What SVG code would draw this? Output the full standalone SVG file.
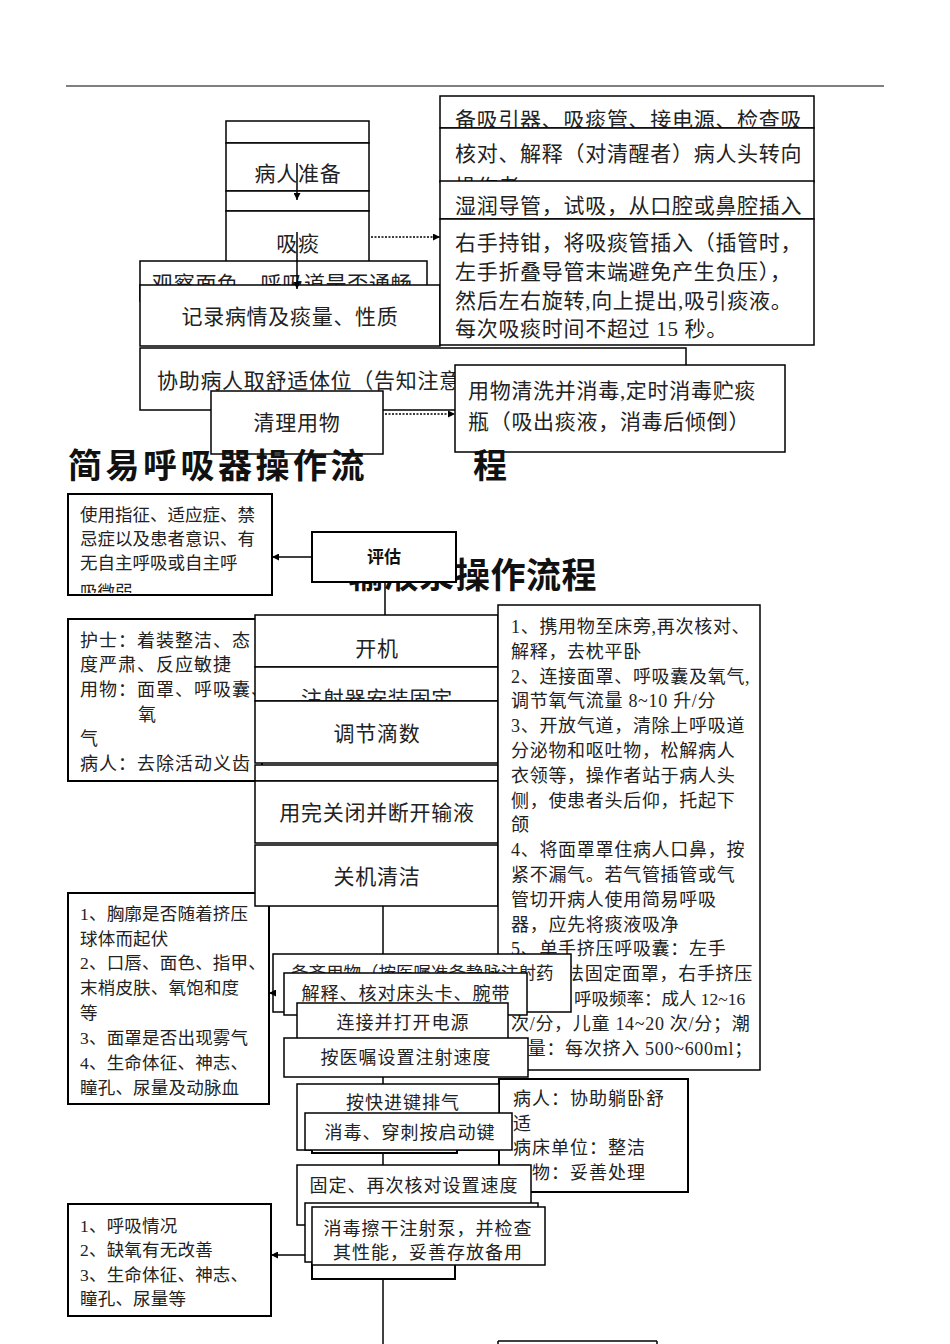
<svg xmlns="http://www.w3.org/2000/svg" width="950" height="1344" viewBox="0 0 950 1344">
<style>
.b{fill:#fff;stroke:#000;stroke-width:1.5}
.bb{fill:#fff;stroke:#000;stroke-width:2}
.t{font-family:"Liberation Serif","Noto Sans CJK SC",sans-serif;fill:#222}
.f21{font-size:21px;letter-spacing:0.7px}
.f18{font-size:18px;letter-spacing:1px}
.f18s{font-size:17.5px;letter-spacing:0.2px}
.f17{font-size:17.5px}
.fr{font-size:18px;letter-spacing:0.7px}
.c{text-anchor:middle}
.ttl{font-family:"Noto Sans CJK SC",sans-serif;font-weight:bold;fill:#111}
.ln{stroke:#000;stroke-width:1.5;fill:none}
.dot{stroke:#000;stroke-width:1.5;fill:none;stroke-dasharray:2 1.5}
</style>
<defs>
<marker id="ah" viewBox="0 0 10 10" refX="10" refY="5" markerWidth="7" markerHeight="7" markerUnits="userSpaceOnUse" orient="auto"><path d="M0,0L10,5L0,10z" fill="#000"/></marker>
<clipPath id="clipA"><rect x="68" y="494" width="204" height="99"/></clipPath>
<clipPath id="clipB"><rect x="440" y="128" width="374" height="53"/></clipPath>
<clipPath id="clipC"><rect x="300" y="583" width="160" height="20"/></clipPath>
<clipPath id="clipD"><rect x="140" y="262" width="287" height="23"/></clipPath>
<clipPath id="clipE"><rect x="255" y="668" width="243" height="33"/></clipPath>
</defs>
<line x1="66" y1="86" x2="884" y2="86" stroke="#000" stroke-width="1"/>

<g id="top-column">
<rect class="b" x="226" y="121" width="143" height="22"/>
<g id="n-patient-prep"><rect class="b" x="226" y="143" width="143" height="48"/><text class="t f21 c" x="298" y="181">病人准备</text></g>
<rect class="b" x="226" y="191" width="143" height="20"/>
<g id="n-suction"><rect class="b" x="226" y="211" width="143" height="51"/><text class="t f21 c" x="298" y="251">吸痰</text></g>
</g>
<g id="n-observe"><rect class="b" x="140" y="261" width="287" height="40"/><text class="t f21" x="152" y="291" clip-path="url(#clipD)">观察面色、呼吸道是否通畅</text></g>
<g id="n-record"><rect class="b" x="140" y="285" width="300" height="61"/><text class="t f21 c" x="290" y="324">记录病情及痰量、性质</text></g>

<g id="n-r1"><rect class="b" x="440" y="96" width="374" height="32"/><text class="t f21" x="455" y="127">备吸引器、吸痰管、接电源、检查吸</text></g>
<g id="n-r2"><rect class="b" x="440" y="128" width="374" height="54"/><text class="t f21" x="455" y="161">核对、解释（对清醒者）病人头转向</text><text class="t f21" x="455" y="194" clip-path="url(#clipB)">操作者</text></g>
<g id="n-r3"><rect class="b" x="440" y="181" width="374" height="38"/><text class="t f21" x="455" y="213">湿润导管，试吸，从口腔或鼻腔插入</text></g>
<g id="n-r4"><rect class="b" x="440" y="219" width="374" height="126"/>
<text class="t f21" x="455" y="250">右手持钳，将吸痰管插入（插管时，</text>
<text class="t f21" x="455" y="279">左手折叠导管末端避免产生负压），</text>
<text class="t f21" x="455" y="308">然后左右旋转,向上提出,吸引痰液。</text>
<text class="t f21" x="455" y="336">每次吸痰时间不超过 15 秒。</text></g>

<g id="n-assist"><rect class="b" x="140" y="348" width="546" height="62"/><text class="t f21" x="157" y="388">协助病人取舒适体位（告知注意</text></g>
<g id="n-disinfect"><rect class="b" x="455" y="365" width="330" height="87"/><text class="t f21" x="468" y="398">用物清洗并消毒,定时消毒贮痰</text><text class="t f21" x="468" y="429">瓶（吸出痰液，消毒后倾倒）</text></g>
<g id="n-clean"><rect class="b" x="211" y="391" width="172" height="63"/><text class="t f21 c" x="297" y="430">清理用物</text></g>

<text class="ttl" x="68" y="478" font-size="34" letter-spacing="3.5">简易呼吸器操作流</text>
<text class="ttl" x="473" y="478" font-size="34">程</text>
<text class="ttl" x="348" y="588" font-size="35" letter-spacing="0.5" clip-path="url(#clipC)">输液泵</text>
<text class="ttl" x="455" y="588" font-size="35" letter-spacing="0.5">操作流程</text>

<g id="n-assess"><rect class="bb" x="312" y="532" width="144" height="50"/><text class="ttl c" x="384" y="563" font-size="17">评估</text></g>
<g id="n-indic"><rect class="bb" x="68" y="494" width="204" height="101"/>
<g clip-path="url(#clipA)">
<text class="t f17" x="80" y="521">使用指征、适应症、禁</text>
<text class="t f17" x="80" y="545">忌症以及患者意识、有</text>
<text class="t f17" x="80" y="569">无自主呼吸或自主呼</text>
<text class="t f17" x="80" y="598">吸微弱</text></g></g>

<g id="n-nurse"><rect class="bb" x="68" y="619" width="194" height="162"/>
<text class="t f18" x="80" y="647">护士：着装整洁、态</text>
<text class="t f18" x="80" y="671">度严肃、反应敏捷</text>
<text class="t f18" x="80" y="696">用物：面罩、呼吸囊、</text>
<text class="t f18" x="138" y="721">氧</text>
<text class="t f18" x="80" y="745">气</text>
<text class="t f18" x="80" y="770">病人：去除活动义齿</text></g>

<g id="n-check1"><rect class="bb" x="68" y="893" width="201" height="211"/>
<text class="t f18s" x="80" y="920">1、胸廓是否随着挤压</text>
<text class="t f18s" x="80" y="945">球体而起伏</text>
<text class="t f18s" x="80" y="969">2、口唇、面色、指甲、</text>
<text class="t f18s" x="80" y="994">末梢皮肤、氧饱和度</text>
<text class="t f18s" x="80" y="1019">等</text>
<text class="t f18s" x="80" y="1044">3、面罩是否出现雾气</text>
<text class="t f18s" x="80" y="1069">4、生命体征、神志、</text>
<text class="t f18s" x="80" y="1094">瞳孔、尿量及动脉血</text></g>

<g id="mid-column">
<g id="n-start"><rect class="b" x="255" y="615" width="243" height="52"/><text class="t f21 c" x="377" y="656">开机</text></g>
<g id="n-syringe"><rect class="b" x="255" y="667" width="243" height="34"/><text class="t f21 c" x="377" y="706" clip-path="url(#clipE)">注射器安装固定</text></g>
<g id="n-drip"><rect class="b" x="255" y="701" width="243" height="62"/><text class="t f21 c" x="377" y="741">调节滴数</text></g>
<rect class="b" x="255" y="765" width="243" height="16"/>
<g id="n-close"><rect class="b" x="255" y="781" width="243" height="62"/><text class="t f21 c" x="377" y="820">用完关闭并断开输液</text></g>
<g id="n-off"><rect class="b" x="255" y="845" width="243" height="61"/><text class="t f21 c" x="377" y="884">关机清洁</text></g>
</g>

<g id="n-steps"><rect class="b" x="498" y="605" width="262" height="465"/>
<text class="t fr" x="511" y="633">1、携用物至床旁,再次核对、</text>
<text class="t fr" x="511" y="658">解释，去枕平卧</text>
<text class="t fr" x="511" y="683">2、连接面罩、呼吸囊及氧气,</text>
<text class="t fr" x="511" y="707">调节氧气流量 8~10 升/分</text>
<text class="t fr" x="511" y="732">3、开放气道，清除上呼吸道</text>
<text class="t fr" x="511" y="757">分泌物和呕吐物，松解病人</text>
<text class="t fr" x="511" y="782">衣领等，操作者站于病人头</text>
<text class="t fr" x="511" y="807">侧，使患者头后仰，托起下</text>
<text class="t fr" x="511" y="831">颌</text>
<text class="t fr" x="511" y="856">4、将面罩罩住病人口鼻，按</text>
<text class="t fr" x="511" y="881">紧不漏气。若气管插管或气</text>
<text class="t fr" x="511" y="906">管切开病人使用简易呼吸</text>
<text class="t fr" x="511" y="931">器，应先将痰液吸净</text>
<text class="t fr" x="511" y="955">5、单手挤压呼吸囊：左手</text>
<text class="t fr" x="566" y="980" letter-spacing="0.3">法固定面罩，右手挤压</text>
<text class="t f17" x="574" y="1005">呼吸频率：成人 12~16</text>
<text class="t fr" x="511" y="1030">次/分，儿童 14~20 次/分；潮</text>
<text class="t fr" x="509" y="1055">气量：每次挤入 500~600ml；</text></g>

<g id="n-prepare"><rect class="b" x="273" y="954" width="298" height="58"/><text class="t f17" x="291" y="979">备齐用物（按医嘱准备静脉注射药</text></g>
<g id="n-explain"><rect class="b" x="284" y="973" width="243" height="42"/><text class="t f18 c" x="406" y="1000">解释、核对床头卡、腕带</text></g>
<g id="n-power"><rect class="b" x="297" y="1003" width="211" height="38"/><text class="t f18 c" x="403" y="1029">连接并打开电源</text></g>
<g id="n-speed"><rect class="b" x="284" y="1038" width="244" height="39"/><text class="t f18 c" x="406" y="1064">按医嘱设置注射速度</text></g>

<g id="n-patient"><rect class="bb" x="499" y="1079" width="189" height="113"/>
<text class="t f18" x="513" y="1105">病人：协助躺卧舒</text>
<text class="t f18" x="513" y="1130">适</text>
<text class="t f18" x="513" y="1154">病床单位：整洁</text>
<text class="t f18" x="513" y="1179">用物：妥善处理</text></g>

<g id="n-purge"><rect class="b" x="297" y="1084" width="202" height="66"/><text class="t f18 c" x="403" y="1109">按快进键排气</text></g>
<rect class="bb" x="312" y="1125" width="145" height="28"/>
<g id="n-puncture"><rect class="b" x="305" y="1113" width="207" height="37"/><text class="t f18 c" x="410" y="1139">消毒、穿刺按启动键</text></g>

<g id="n-fix"><rect class="b" x="297" y="1165" width="234" height="60"/><text class="t f18 c" x="414" y="1192">固定、再次核对设置速度</text></g>
<rect class="bb" x="312" y="1230" width="143" height="49"/>
<rect class="b" x="305" y="1203" width="233" height="59"/>
<g id="n-wipe"><rect class="b" x="312" y="1207" width="233" height="58"/><text class="t f18 c" x="428" y="1235">消毒擦干注射泵，并检查</text><text class="t f18 c" x="428" y="1259">其性能，妥善存放备用</text></g>

<g id="n-check2"><rect class="bb" x="68" y="1204" width="203" height="112"/>
<text class="t f18s" x="80" y="1232">1、呼吸情况</text>
<text class="t f18s" x="80" y="1256">2、缺氧有无改善</text>
<text class="t f18s" x="80" y="1281">3、生命体征、神志、</text>
<text class="t f18s" x="80" y="1305">瞳孔、尿量等</text></g>

<g id="n-bottom"><line class="ln" x1="498" y1="1341" x2="657" y2="1341"/><line class="ln" x1="498" y1="1341" x2="498" y2="1344"/><line class="ln" x1="657" y1="1341" x2="657" y2="1344"/></g>

<g id="connectors">
<line class="ln" x1="297" y1="163" x2="297" y2="200" marker-end="url(#ah)"/>
<line class="ln" x1="297" y1="232" x2="297" y2="289" marker-end="url(#ah)"/>
<line class="dot" x1="371" y1="237" x2="440" y2="237" marker-end="url(#ah)"/>
<line class="dot" x1="385" y1="414" x2="455" y2="414" marker-end="url(#ah)"/>
<line class="ln" x1="312" y1="557" x2="272" y2="557" stroke-width="2" marker-end="url(#ah)"/>
<line class="ln" x1="385" y1="582" x2="385" y2="615" stroke-width="2"/>
<line class="ln" x1="383" y1="906" x2="383" y2="954" stroke-width="2"/>
<line class="ln" x1="273" y1="993" x2="269" y2="993" marker-end="url(#ah)"/>
<line class="ln" x1="383" y1="1077" x2="383" y2="1084" stroke-width="2"/>
<line class="ln" x1="383" y1="1153" x2="383" y2="1165" stroke-width="2"/>
<line class="ln" x1="305" y1="1255" x2="271" y2="1255" stroke-width="2" marker-end="url(#ah)"/>
<line class="ln" x1="383" y1="1279" x2="383" y2="1344" stroke-width="2"/>
</g>
</svg>
